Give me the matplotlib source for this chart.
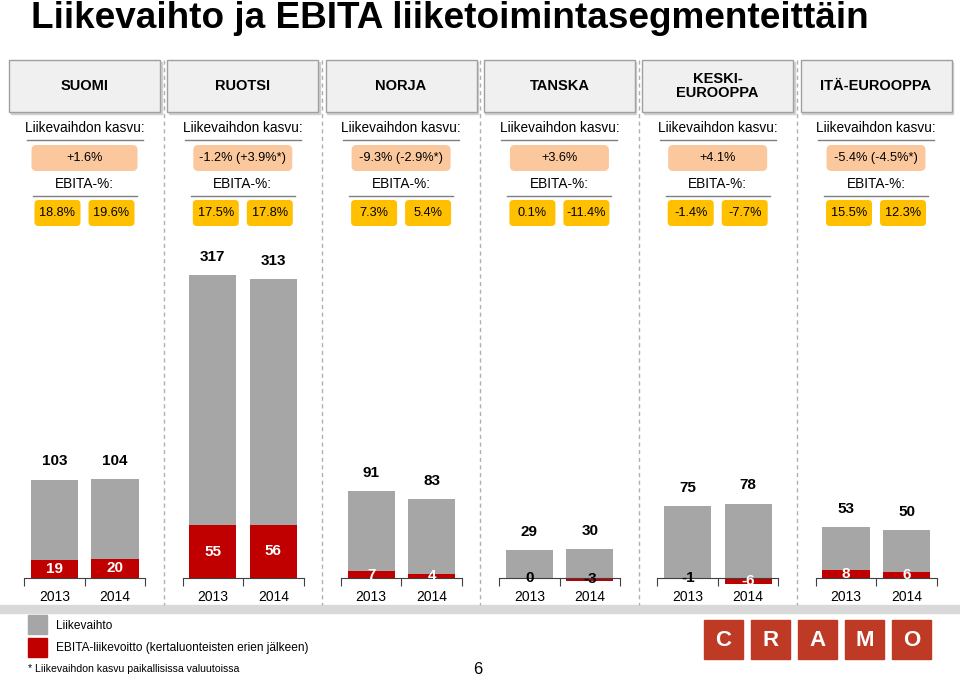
import matplotlib
matplotlib.use("Agg")
import matplotlib.pyplot as plt
from matplotlib.patches import Rectangle, FancyBboxPatch

# --- data ---
segments = ["SUOMI", "RUOTSI", "NORJA", "TANSKA", "KESKI-\nEUROOPPA", "ITÄ-EUROOPPA"]
years = ["2013", "2014"]
kasvu = ["+1.6%", "-1.2% (+3.9%*)", "-9.3% (-2.9%*)", "+3.6%", "+4.1%", "-5.4% (-4.5%*)"]
ebita_pct_2013 = ["18.8%", "17.5%", "7.3%", "0.1%", "-1.4%", "15.5%"]
ebita_pct_2014 = ["19.6%", "17.8%", "5.4%", "-11.4%", "-7.7%", "12.3%"]
liikevaihto_2013 = [103, 317, 91, 29, 75, 53]
liikevaihto_2014 = [104, 313, 83, 30, 78, 50]
ebita_2013 = [19, 55, 7, 0, -1, 8]
ebita_2014 = [20, 56, 4, -3, -6, 6]

GRAY = "#a6a6a6"
RED = "#c00000"
ORANGE = "#fbc89e"
GOLD = "#ffc000"
FONT = "Liberation Sans"

W, H = 960, 677
fig = plt.figure(figsize=(W / 100, H / 100), dpi=100)
plt.rcParams["font.family"] = FONT


def px_axes(x0, y0, x1, y1):
    return fig.add_axes([x0 / W, 1 - y1 / H, (x1 - x0) / W, (y1 - y0) / H])


bg = px_axes(0, 0, W, H)
bg.set_xlim(0, W)
bg.set_ylim(H, 0)
bg.axis("off")

bg.text(31, 28, "Liikevaihto ja EBITA liiketoimintasegmenteittäin", fontsize=26.6,
        fontweight="bold", va="baseline", ha="left")

STEP = 158.3
for i in range(6):
    cx = 84.5 + STEP * i
    # header box
    bg.add_patch(Rectangle((cx - 75.5 + 1.5, 60 + 1.5), 151, 52, color="#d0d0d0", zorder=1))
    bg.add_patch(Rectangle((cx - 75.5, 60), 151, 52, facecolor="#f0f0f0",
                           edgecolor="#a0a0a0", lw=1, zorder=2))
    bg.text(cx, 86, segments[i], fontsize=10.5, fontweight="bold",
            ha="center", va="center", linespacing=1.0, zorder=3)
    # growth
    bg.text(cx, 128, "Liikevaihdon kasvu:", fontsize=9.8, ha="center", va="center")
    bg.plot([cx - 58, cx + 58], [140, 140], color="#7f7f7f", lw=1)
    bw = 106 if i == 0 else 99
    bg.add_patch(FancyBboxPatch((cx - bw / 2 + 4, 149), bw - 8, 18,
                                boxstyle="round,pad=4,rounding_size=5", fc=ORANGE, ec="none"))
    bg.text(cx, 158, kasvu[i], fontsize=9.2, ha="center", va="center")
    # EBITA-%
    bg.text(cx, 184, "EBITA-%:", fontsize=9.8, ha="center", va="center")
    bg.plot([cx - 52, cx + 52], [196, 196], color="#7f7f7f", lw=1)
    for k, txt in enumerate([ebita_pct_2013[i], ebita_pct_2014[i]]):
        bx = cx + (-27 if k == 0 else 27)
        bg.add_patch(FancyBboxPatch((bx - 19, 204), 38, 18,
                                    boxstyle="round,pad=4,rounding_size=4", fc=GOLD, ec="none"))
        bg.text(bx, 213, txt, fontsize=9.2, ha="center", va="center")
    if i > 0:
        bg.plot([cx - STEP / 2] * 2, [60, 605], color="#b0b0b0", lw=1, ls=(0, (3, 2.5)))

# bottom band
bg.add_patch(Rectangle((0, 605), W, 8, color="#d9d9d9"))

# bar panels
SCALE = 0.955  # px per unit
BASE = 578
TOP, BOT = 230, 600
for i in range(6):
    left = 24.25 + STEP * i
    ax = px_axes(left, TOP, left + 121, BOT)
    ax.set_xlim(-0.5, 1.5)
    ax.set_ylim(-(BOT - BASE) / SCALE, (BASE - TOP) / SCALE)
    ax.patch.set_alpha(0)
    lv = [liikevaihto_2013[i], liikevaihto_2014[i]]
    eb = [ebita_2013[i], ebita_2014[i]]
    ax.bar([0, 1], lv, width=0.78, color=GRAY, zorder=1)
    ax.bar([0, 1], eb, width=0.78, color=RED, zorder=2)
    for j in range(2):
        ax.text(j, lv[j] + 19, str(lv[j]), fontsize=11, fontweight="bold",
                ha="center", va="center")
        col = "black" if eb[j] in (0, -3, -1) else "white"
        ax.text(j, eb[j] / 2, str(eb[j]), fontsize=11, fontweight="bold",
                ha="center", va="center", color=col, zorder=4)
        ax.text(j, -20, years[j], fontsize=10, ha="center", va="center")
    for s in ["top", "left", "right"]:
        ax.spines[s].set_visible(False)
    ax.spines["bottom"].set_position(("data", 0))
    ax.spines["bottom"].set_color("#404040")
    ax.spines["bottom"].set_zorder(3)
    ax.set_yticks([])
    ax.set_xticks([-0.5, 0.5, 1.5])
    ax.set_xticklabels([])
    ax.tick_params(axis="x", direction="out", length=6, color="#404040")

# legend
bg.add_patch(Rectangle((28, 615), 19, 19, color=GRAY))
bg.add_patch(Rectangle((28, 638), 19, 19, color=RED))
bg.text(56, 626, "Liikevaihto", fontsize=8.6, va="center")
bg.text(56, 648, "EBITA-liikevoitto (kertaluonteisten erien jälkeen)", fontsize=8.6,
        va="center")
bg.text(28, 669, "* Liikevaihdon kasvu paikallisissa valuutoissa", fontsize=7.6,
        va="center")
bg.text(478, 669, "6", fontsize=12, ha="center", va="center")

# logo
for k, ch in enumerate("CRAMO"):
    x0 = 704 + 47.1 * k
    bg.add_patch(Rectangle((x0, 620), 39, 39, color="#bf3a24"))
    bg.text(x0 + 19.5, 640, ch, fontsize=16, fontweight="bold",
            color="white", ha="center", va="center")

fig.savefig("out.png", dpi=100)
